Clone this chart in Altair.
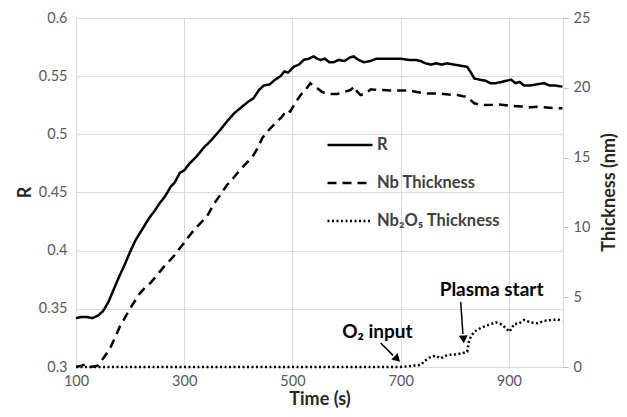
import altair as alt
import pandas as pd

# ---- data ----
r_time = [100, 110, 120, 130, 140, 150, 160, 170, 180, 190, 200, 210, 222, 235, 245, 255, 265, 275, 283, 292,
          300, 310, 323, 335, 350, 365, 379, 392, 405, 418, 428, 438, 447, 458, 468, 478, 485, 492, 502, 512,
          521, 530, 539, 546, 552, 560, 568, 576, 586, 596, 606, 613, 622, 632, 644, 655, 670, 685, 700, 715,
          728, 737, 746, 756, 766, 776, 786, 798, 811, 823, 830, 836, 846, 857, 866, 876, 886, 895, 904, 912,
          920, 928, 940, 952, 965, 975, 985, 999]
r_value = [0.342, 0.343, 0.343, 0.342, 0.344, 0.348, 0.356, 0.367, 0.378, 0.388, 0.399, 0.409, 0.418, 0.428,
           0.434, 0.441, 0.447, 0.455, 0.459, 0.467, 0.469, 0.475, 0.481, 0.488, 0.495, 0.503, 0.511, 0.518,
           0.523, 0.528, 0.531, 0.538, 0.542, 0.543, 0.547, 0.550, 0.554, 0.553, 0.558, 0.560, 0.564, 0.565,
           0.567, 0.565, 0.564, 0.565, 0.562, 0.562, 0.564, 0.563, 0.566, 0.567, 0.564, 0.562, 0.563, 0.565,
           0.565, 0.565, 0.565, 0.564, 0.564, 0.563, 0.561, 0.560, 0.561, 0.560, 0.561, 0.560, 0.559, 0.558,
           0.553, 0.548, 0.547, 0.546, 0.544, 0.544, 0.545, 0.546, 0.547, 0.544, 0.545, 0.542, 0.542, 0.543,
           0.544, 0.542, 0.542, 0.541]

nb_time = [100, 110, 120, 128, 140, 150, 163, 172, 181, 190, 200, 210, 218, 228, 237, 246, 255, 265, 274, 282,
           289, 298, 308, 318, 330, 342, 355, 368, 379, 390, 398, 410, 420, 428, 436, 444, 452, 462, 472, 480,
           490, 496, 505, 515, 525, 533, 540, 546, 555, 564, 573, 583, 595, 607, 615, 620, 626, 635, 645, 657,
           669, 680, 695, 710, 718, 730, 745, 760, 768, 780, 795, 805, 815, 823, 830, 836, 845, 854, 870, 880,
           891, 905, 915, 928, 940, 953, 965, 980, 999]
nb_value = [0, 0.1, 0.2, 0, 0.1, 0.6, 1.34, 2.1, 2.89, 3.5, 4.2, 4.8, 5.28, 5.7, 6.0, 6.4, 6.83, 7.3, 7.66, 8.0,
            8.38, 8.8, 9.33, 9.8, 10.3, 10.77, 11.7, 12.4, 13.04, 13.5, 13.88, 14.4, 14.8, 15.19, 15.7, 16.38,
            16.8, 17.21, 17.6, 17.9, 18.41, 18.29, 18.9, 19.48, 19.9, 20.32, 20.1, 19.96, 19.7, 19.6, 19.55,
            19.56, 19.7, 19.84, 20.1, 19.7, 19.48, 19.6, 19.9, 19.84, 19.84, 19.8, 19.8, 19.8, 19.8, 19.7, 19.6,
            19.6, 19.6, 19.55, 19.5, 19.48, 19.4, 19.36, 19.1, 18.89, 18.8, 18.77, 18.78, 18.8, 18.77, 18.7,
            18.68, 18.65, 18.6, 18.65, 18.6, 18.55, 18.53]

ox_time = [100, 400, 700, 712, 725, 737, 745, 756, 765, 774, 786, 800, 814, 823, 826, 830, 836, 848, 861, 876,
           884, 891, 901, 910, 918, 928, 940, 953, 965, 978, 990, 999]
ox_value = [0, 0, 0, 0.05, 0.1, 0.15, 0.45, 0.74, 0.8, 0.62, 0.86, 0.9, 0.98, 1.1, 1.8, 2.2, 2.53, 2.8, 3.0,
            3.2, 3.1, 2.9, 2.53, 3.08, 3.1, 3.37, 3.2, 3.13, 3.3, 3.37, 3.4, 3.32]

series_names = ["R", "Nb Thickness", "Nb\u2082O\u2085 Thickness"]

x_ticks = [100, 300, 500, 700, 900]
r_ticks = [0.3, 0.35, 0.4, 0.45, 0.5, 0.55, 0.6]
th_ticks = [0, 5, 10, 15, 20, 25]

# annotations (data coordinates: time, R)
note_text = ["O\u2082 input", "Plasma start"]
note_time = [657, 868]
note_r = [0.330, 0.3662]
arrow_id = ["o2", "o2", "plasma", "plasma"]
arrow_t = [663, 686, 811, 815]
arrow_r = [0.3206, 0.3100, 0.3559, 0.3284]
head_time = [692, 816]
head_r = [0.3077, 0.3249]
head_angle = [135, 176]

# ---- tables ----
df_r = pd.DataFrame({"time": r_time, "value": r_value, "series": series_names[0]})
df_th = pd.concat([
    pd.DataFrame({"time": nb_time, "value": nb_value, "series": series_names[1]}),
    pd.DataFrame({"time": ox_time, "value": ox_value, "series": series_names[2]}),
])
df_note = pd.DataFrame({"text": note_text, "time": note_time, "r": note_r})
df_arrow = pd.DataFrame({"id": arrow_id, "time": arrow_t, "r": arrow_r})
df_head = pd.DataFrame({"time": head_time, "r": head_r, "ang": head_angle})

FONT = "Lato, 'Noto Sans', sans-serif"
GRID = "#d9d9d9"
TITLE_COLOR = "#262626"

x_scale = alt.Scale(domain=[100, 1000], nice=False, zero=False)
x_axis = alt.Axis(values=x_ticks, grid=True, gridColor=GRID, ticks=False, domainColor=GRID,
                  labelFont=FONT, labelFontSize=14.5, labelColor="#595959", labelPadding=7, labelFlush=False,
                  title="Time (s)", titleFont=FONT, titleFontSize=18, titleFontWeight="bold",
                  titleColor=TITLE_COLOR, titleX=243.5, titleY=32, titleAlign="center",
                  titleBaseline="middle")
r_scale = alt.Scale(domain=[0.3, 0.6], nice=False, zero=False)
r_axis = alt.Axis(values=r_ticks, format=".2~f", grid=True, gridColor=GRID, ticks=False, domainColor=GRID,
                  labelFont=FONT, labelFontSize=14.5, labelColor="#595959", labelPadding=9, labelFlush=False,
                  title="R", titleFont=FONT, titleFontSize=18, titleFontWeight="bold",
                  titleColor=TITLE_COLOR, titleX=-51, titleY=174, titleAngle=270, titleAlign="center",
                  titleBaseline="middle")

dash = alt.StrokeDash("series:N",
                      scale=alt.Scale(domain=series_names, range=[[1, 0], [9, 6], [2, 2.5]]),
                      legend=alt.Legend(title=None, orient="none", legendX=250, legendY=103,
                                        symbolType="stroke", symbolSize=2025, symbolStrokeWidth=2.5,
                                        symbolStrokeColor="black", labelFont=FONT, labelFontSize=16.5,
                                        labelFontWeight="bold", labelColor="#404040", labelOffset=3,
                                        rowPadding=5, padding=0))

x_enc = alt.X("time:Q", scale=x_scale, axis=x_axis)

r_line = alt.Chart(df_r).mark_line(color="black", strokeWidth=2.5).encode(
    x=x_enc,
    y=alt.Y("value:Q", scale=r_scale, axis=r_axis),
    strokeDash=dash,
)

notes = alt.Chart(df_note).mark_text(font=FONT, fontSize=19, fontWeight="bold", color="black").encode(
    x=x_enc,
    y=alt.Y("r:Q", scale=r_scale, axis=r_axis),
    text="text:N",
)

arrows = alt.Chart(df_arrow).mark_line(color="black", strokeWidth=1.5).encode(
    x=x_enc,
    y=alt.Y("r:Q", scale=r_scale, axis=r_axis),
    detail="id:N",
)

heads = alt.Chart(df_head).mark_point(shape="triangle", filled=True, color="black", size=80, opacity=1).encode(
    x=x_enc,
    y=alt.Y("r:Q", scale=r_scale, axis=r_axis),
    angle=alt.Angle("ang:Q", scale=None),
)

left = alt.layer(r_line, notes, arrows, heads)

th_line = alt.Chart(df_th).mark_line(color="black", strokeWidth=2.5).encode(
    x=x_enc,
    y=alt.Y("value:Q", scale=alt.Scale(domain=[0, 25], nice=False),
            axis=alt.Axis(orient="right", values=th_ticks, grid=False, ticks=True, tickSize=5,
                          tickColor="#bfbfbf", domainColor=GRID, labelFont=FONT, labelFontSize=14.5,
                          labelColor="#595959", labelPadding=5, labelFlush=False, title="Thickness (nm)",
                          titleAngle=270, titleFont=FONT, titleFontSize=18, titleFontWeight="bold",
                          titleColor=TITLE_COLOR, titleX=46, titleY=174, titleAlign="center",
                          titleBaseline="middle")),
    strokeDash=dash,
)

chart = alt.layer(left, th_line).resolve_scale(y="independent").properties(
    width=487, height=349,
    autosize=alt.AutoSizeParams(type="none"),
    padding={"left": 68, "top": 10, "right": 56, "bottom": 42},
).configure_view(stroke=None).configure(background="white")

chart.save("out.html", embed_options={"renderer": "svg", "actions": False})
